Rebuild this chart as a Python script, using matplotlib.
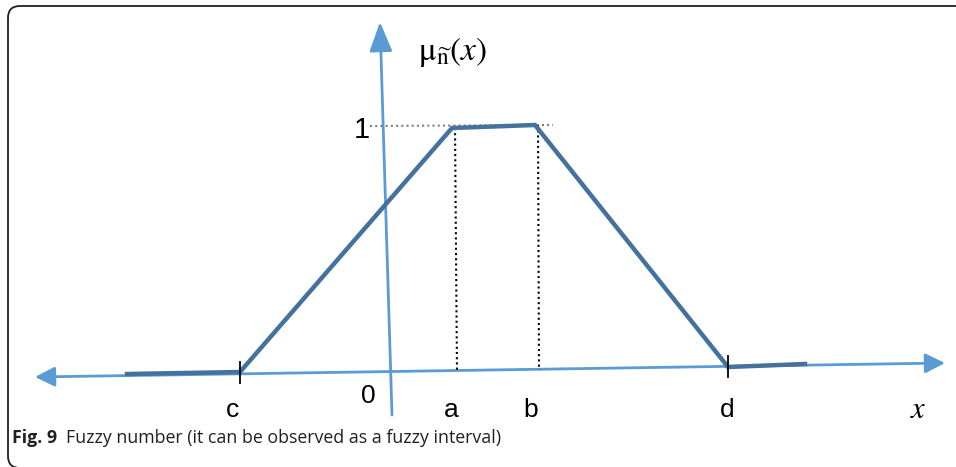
import matplotlib.pyplot as plt
from matplotlib.patches import FancyArrowPatch, FancyBboxPatch

plt.rcParams['mathtext.fontset'] = 'stix'

# diagram in image (pixel) coordinates, y grows downward
trap_x = [127, 240, 452, 535, 728, 805]
trap_y = [374, 372, 128, 125, 367, 364]

xaxis_start = (35, 377)
xaxis_end = (945, 363)
yaxis_start = (392, 415)
yaxis_end = (380, 22)

tick_labels = ['c', '0', 'a', 'b', 'd']
tick_label_x = [233, 368, 451, 531, 727]
tick_label_y = [410, 396, 410, 410, 410]

fig = plt.figure(figsize=(9.56, 4.67), dpi=100)
ax = fig.add_axes([0, 0, 1, 1])
ax.set_xlim(0, 956)
ax.set_ylim(467, 0)
ax.axis('off')

# frame
frame = FancyBboxPatch((8, 6), 1000, 462, boxstyle='round,pad=0,rounding_size=12',
                       fill=False, ec='#231f20', lw=1.3, clip_on=True)
ax.add_patch(frame)

axis_col = '#5b9bd5'
ax.add_patch(FancyArrowPatch(xaxis_start, xaxis_end, arrowstyle='<|-|>,head_length=12,head_width=6',
                             color=axis_col, lw=2, mutation_scale=1, shrinkA=0, shrinkB=0))
ax.add_patch(FancyArrowPatch(yaxis_start, yaxis_end, arrowstyle='-|>,head_length=18,head_width=7',
                             color=axis_col, lw=2, mutation_scale=1, shrinkA=0, shrinkB=0))

# dotted guides
ax.plot([370, 553], [126, 125], ls=(0, (1, 1.5)), color='#7f7f7f', lw=1.5)
ax.plot([455, 457], [128, 372], ls=(0, (1, 1.5)), color='black', lw=1.5)
ax.plot([538, 539], [125, 370], ls=(0, (1, 1.5)), color='black', lw=1.5)

# membership function
ax.plot(trap_x, trap_y, color='#44729d', lw=3.2, solid_joinstyle='miter')

# ticks at c and d
ax.plot([240, 240], [362, 383], color='black', lw=1.3)
ax.plot([728, 728], [356, 377], color='black', lw=1.3)

for lab, tx, ty in zip(tick_labels, tick_label_x, tick_label_y):
    ax.text(tx, ty, lab, fontsize=19, family='Liberation Sans', ha='center', va='center')

ax.text(362, 130, '1', fontsize=21, family='Liberation Sans', ha='center', va='center')
ax.text(918, 410, r'$x$', fontsize=22, ha='center', va='center')
ax.text(418, 52, r'$\mathrm{\mu}_{\widetilde{\mathrm{n}}}(x)$', fontsize=24,
        ha='left', va='center')

ax.text(12, 438, 'Fig. 9', fontsize=12.8, family='Open Sans', weight='bold',
        color='#231f20', va='center')
ax.text(66, 438, 'Fuzzy number (it can be observed as a fuzzy interval)', fontsize=12.8,
        family='Open Sans', color='#231f20', va='center')

fig.savefig('out.png', dpi=100)
